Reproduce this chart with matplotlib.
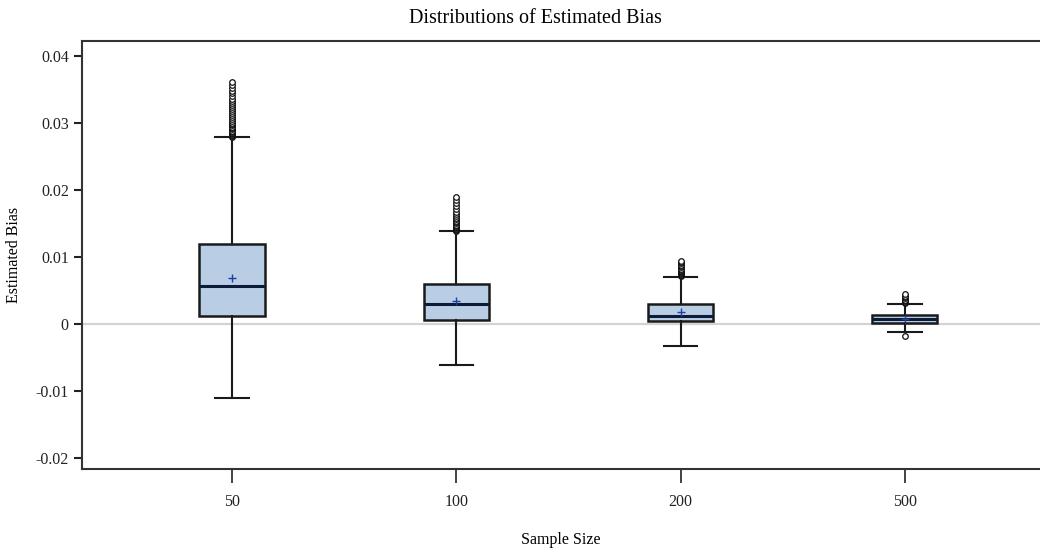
import numpy as np
import matplotlib
matplotlib.use("Agg")
import matplotlib.pyplot as plt

plt.rcParams['font.family'] = ['Liberation Serif', 'DejaVu Serif']

# values
sample_sizes = ["50", "100", "200", "500"]
q1 = [0.0012, 0.0006, 0.0004, 0.0001]
median = [0.0056, 0.0030, 0.0012, 0.0007]
q3 = [0.0119, 0.0059, 0.0030, 0.0013]
mean = [0.0068, 0.0034, 0.0018, 0.0007]
whisker_lo = [-0.0111, -0.0061, -0.0034, -0.0013]
whisker_hi = [0.0278, 0.0138, 0.0070, 0.0030]
outliers = [
    [0.0279, 0.0280, 0.0281, 0.0282, 0.0283, 0.0284, 0.0285, 0.0286, 0.0287,
     0.0288, 0.0290, 0.0292, 0.0294, 0.0296, 0.0298, 0.0300, 0.0302, 0.0305,
     0.0308, 0.0311, 0.0314, 0.0317, 0.0320, 0.0323, 0.0326, 0.0329, 0.0332,
     0.0336, 0.0340, 0.0344, 0.0348, 0.0352, 0.0356, 0.0361],
    [0.0139, 0.0140, 0.0141, 0.0142, 0.0143, 0.0144, 0.0145, 0.0146, 0.0148,
     0.0150, 0.0152, 0.0154, 0.0156, 0.0158, 0.0161, 0.0164, 0.0167, 0.0171,
     0.0175, 0.0180, 0.0185, 0.0189],
    [0.0071, 0.0072, 0.0073, 0.0074, 0.0075, 0.0076, 0.0077, 0.0078, 0.0079,
     0.0080, 0.0082, 0.0084, 0.0086, 0.0088, 0.0090, 0.0092, 0.0094],
    [0.0031, 0.0032, 0.0033, 0.0034, 0.0035, 0.0036, 0.0038, 0.0040, 0.0042,
     0.0045, -0.0019],
]

stats = []
for i in range(len(sample_sizes)):
    stats.append(dict(q1=q1[i], med=median[i], q3=q3[i], mean=mean[i],
                      whislo=whisker_lo[i], whishi=whisker_hi[i],
                      fliers=outliers[i], label=sample_sizes[i]))

fig = plt.figure(figsize=(10.4, 5.54), dpi=100)
ax = fig.add_axes([0.0788, 0.1534, 0.9212, 0.7726])

ax.axhline(0, color='#d3d3d3', lw=1.6, zorder=0)

positions = np.arange(len(sample_sizes))
ax.bxp(stats, positions=positions, widths=0.29, patch_artist=True,
       showmeans=True, showfliers=True,
       boxprops=dict(facecolor='#b9cde5', edgecolor='#1a1a1a', linewidth=1.8),
       medianprops=dict(color='#0d1b3a', linewidth=2.2),
       whiskerprops=dict(color='#1a1a1a', linewidth=1.5),
       capprops=dict(color='#1a1a1a', linewidth=1.5),
       capwidths=0.15,
       meanprops=dict(marker='+', markeredgecolor='#1f3f9f', markersize=6,
                      markeredgewidth=1.0),
       flierprops=dict(marker='o', markerfacecolor='white',
                       markeredgecolor='#111111', markersize=4.0,
                       markeredgewidth=0.9))

ax.set_xlim(-0.669, 3.602)
ax.set_ylim(-0.0217, 0.0422)
ax.set_yticks([-0.02, -0.01, 0, 0.01, 0.02, 0.03, 0.04])
ax.set_yticklabels(["-0.02", "-0.01", "0", "0.01", "0.02", "0.03", "0.04"])
ax.set_xticks(positions)
ax.set_xticklabels(sample_sizes)

for s in ['left', 'bottom', 'top']:
    ax.spines[s].set_color('#333333')
    ax.spines[s].set_linewidth(1.5)
ax.spines['right'].set_visible(False)

ax.tick_params(axis='y', direction='out', length=6, width=1.5, labelsize=11.5,
               colors='#222222')
ax.tick_params(axis='x', direction='out', length=10, width=1.2, labelsize=11.5,
               pad=8, colors='#222222')

ax.set_xlabel("Sample Size", fontsize=11.5, labelpad=16)
ax.set_ylabel("Estimated Bias", fontsize=11.5, labelpad=10)
ax.set_title("Distributions of Estimated Bias", fontsize=14.5, pad=13, x=0.473)

fig.savefig("out.png", dpi=100)
